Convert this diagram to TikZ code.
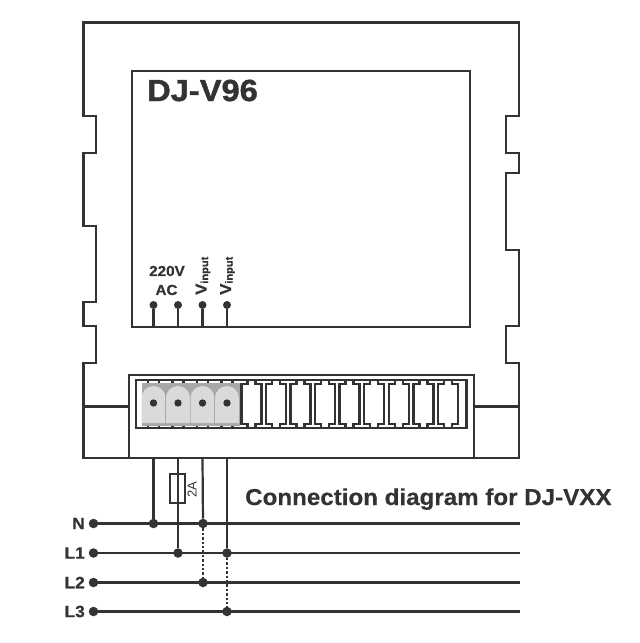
\documentclass[tikz,border=0pt]{standalone}
\usepackage{fontspec}
\setmainfont{Liberation Sans}
\newfontfamily\heavyfont[FakeBold=1.4,FakeStretch=1.07]{Liberation Sans Bold}
\newfontfamily\widefont[FakeBold=0.4,FakeStretch=1.05]{Liberation Sans Bold}
\definecolor{inkgray}{HTML}{333333}
\definecolor{termlight}{HTML}{DADADA}
\definecolor{termdark}{HTML}{A8A8A8}
\tikzset{
    outline/.style={draw=inkgray,line width=2.3pt},
    wire/.style={draw=inkgray,line width=2.2pt},
    dotwire/.style={draw=inkgray,line width=2.4pt,dotted},
    junction/.style={circle,fill=inkgray,inner sep=0pt,minimum size=9.5pt},
    pindot/.style={circle,fill=inkgray,inner sep=0pt,minimum size=8pt},
    boldlabel/.style={text=inkgray,font=\widefont\fontsize{14.5}{14.5}\selectfont,inner sep=0pt},
    linelabel/.style={text=inkgray,font=\widefont\fontsize{16.5}{16.5}\selectfont,inner sep=0pt},
}
\begin{document}
\begin{tikzpicture}[x=1pt,y=-1pt]
    \useasboundingbox (0,0) rectangle (640,643);
    % housing
    \draw[outline] (83.5,22.5) -- (519,22.5) -- (519,116) -- (506,116) -- (506,153) -- (519,153)
        -- (519,173) -- (506,173) -- (506,250) -- (519,250) -- (519,326) -- (506,326) -- (506,363)
        -- (519,363) -- (519,458) -- (83.5,458) -- (83.5,363) -- (96,363) -- (96,326) -- (83.5,326)
        -- (83.5,302) -- (96,302) -- (96,226) -- (83.5,226) -- (83.5,153) -- (96,153) -- (96,116)
        -- (83.5,116) -- cycle;
    \draw[outline] (132,71) rectangle (470,327);
    \draw[outline] (129,458) -- (129,375) -- (474,375) -- (474,458);
    \draw[outline] (83.5,406.5) -- (129,406.5);
    \draw[outline] (474,406.5) -- (519,406.5);
    \node[text=inkgray,anchor=base west,inner sep=0pt] (title) at (147,101)
        {\heavyfont\fontsize{30.5}{30.5}\selectfont DJ-V96};
    % grey terminals
    \fill[termdark] (141.5,383) rectangle (240,426);
    \foreach \u in {153.5,178,202.5,227}
        {
            \fill[termlight] (\u-12,423) -- (\u-12,398) arc[start angle=180,delta angle=-180,radius=12pt] -- (\u+12,423) -- cycle;
            \draw[termdark,line width=0.5pt] (\u+12.2,396) -- (\u+12.2,423);
            \draw[outline] (\u-5.5,380) -- (\u-5.5,383);
            \draw[outline] (\u+5.5,380) -- (\u+5.5,383);
            \draw[outline] (\u-5.5,428) -- (\u-5.5,425.5);
            \draw[outline] (\u+5.5,428) -- (\u+5.5,425.5);
            \fill[inkgray] (\u,403) circle (3.7);
        }
    % empty terminals
    \draw[outline] (136,380) rectangle (466.5,428);
    \foreach \u in {251.5,276,300.5,325,349.5,374,399,423.5,448}
        {
            \draw[outline] (\u-4,380) -- (\u-4,384) -- (\u-10,384) -- (\u-10,424) -- (\u-4,424) -- (\u-4,428);
            \draw[outline] (\u+4,380) -- (\u+4,384) -- (\u+10,384) -- (\u+10,424) -- (\u+4,424) -- (\u+4,428);
        }
    % pins on the front panel
    \foreach \i/\u in {1/153.5,2/178,3/202.5,4/227}
        {
            \node[pindot] (pin\i) at (\u,305) {};
            \coordinate (pinbase\i) at (\u,327);
            \draw[wire] (pin\i) -- (pinbase\i);
            \coordinate (term\i) at (\u,458);
        }
    \node[boldlabel] (voltlabel) at (167,271) {220V};
    \node[boldlabel] (aclabel) at (166.5,290) {AC};
    \foreach \i/\u in {3/203,4/227.5}
        \node[boldlabel,rotate=90,anchor=west] (vinput\i) at (\u,295)
            {\fontsize{16}{16}\selectfont V\fontsize{10.5}{10.5}\selectfont\raisebox{-1.5pt}{input}};
    % supply lines
    \foreach \n/\v/\t in {n/523.5/N,la/553/L1,lb/582.5/L2,lc/611.5/L3}
        {
            \node[junction] (\n start) at (93.5,\v) {};
            \coordinate (\n end) at (520,\v);
            \draw[wire] (\n start) -- (\n end);
            \node[linelabel,anchor=east] (\n label) at (85,\v) {\t};
        }
    % junctions
    \foreach \j/\u/\v in {jn/153.5/523.5,jf/178/553,ja/203/523.5,jb/227/553,jc/203/582.5,jd/227/611.5}
        \node[junction] (\j) at (\u,\v) {};
    \draw[wire] (term1) -- (jn);
    \draw[wire] (term2) -- (jf);
    \draw[wire] (term3) -- (ja);
    \draw[wire] (term4) -- (jb);
    \draw[dotwire] (ja) -- (jc);
    \draw[dotwire] (jb) -- (jd);
    % fuse
    \node[draw=inkgray,line width=2.2pt,minimum width=15pt,minimum height=29pt,inner sep=0pt] (fuse) at (177.5,488.5) {};
    \node[rotate=90,text=inkgray,inner sep=0pt,font=\fontsize{13}{13}\selectfont] (fuselabel) at (192,490) {2A};
    \node[text=inkgray,anchor=base west,inner sep=0pt,font=\widefont\fontsize{23}{23}\selectfont] (caption) at (245,505)
        {Connection diagram for DJ-VXX};
\end{tikzpicture}
\end{document}
